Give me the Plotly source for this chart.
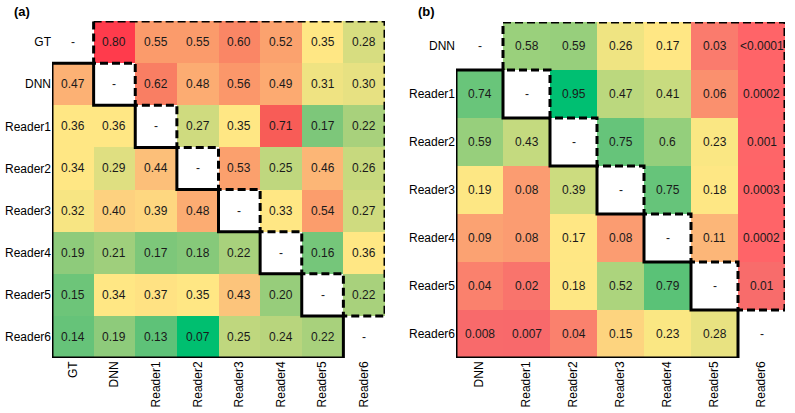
import plotly.graph_objects as go

# ---- data ----
a_labels = ["GT", "DNN", "Reader1", "Reader2", "Reader3", "Reader4", "Reader5", "Reader6"]
a_gt = ["-", "0.80", "0.55", "0.55", "0.60", "0.52", "0.35", "0.28"]
a_dnn = ["0.47", "-", "0.62", "0.48", "0.56", "0.49", "0.31", "0.30"]
a_r1 = ["0.36", "0.36", "-", "0.27", "0.35", "0.71", "0.17", "0.22"]
a_r2 = ["0.34", "0.29", "0.44", "-", "0.53", "0.25", "0.46", "0.26"]
a_r3 = ["0.32", "0.40", "0.39", "0.48", "-", "0.33", "0.54", "0.27"]
a_r4 = ["0.19", "0.21", "0.17", "0.18", "0.22", "-", "0.16", "0.36"]
a_r5 = ["0.15", "0.34", "0.37", "0.35", "0.43", "0.20", "-", "0.22"]
a_r6 = ["0.14", "0.19", "0.13", "0.07", "0.25", "0.24", "0.22", "-"]
a_rows = [a_gt, a_dnn, a_r1, a_r2, a_r3, a_r4, a_r5, a_r6]

b_labels = ["DNN", "Reader1", "Reader2", "Reader3", "Reader4", "Reader5", "Reader6"]
b_dnn = ["-", "0.58", "0.59", "0.26", "0.17", "0.03", "<0.0001"]
b_r1 = ["0.74", "-", "0.95", "0.47", "0.41", "0.06", "0.0002"]
b_r2 = ["0.59", "0.43", "-", "0.75", "0.6", "0.23", "0.001"]
b_r3 = ["0.19", "0.08", "0.39", "-", "0.75", "0.18", "0.0003"]
b_r4 = ["0.09", "0.08", "0.17", "0.08", "-", "0.11", "0.0002"]
b_r5 = ["0.04", "0.02", "0.18", "0.52", "0.79", "-", "0.01"]
b_r6 = ["0.008", "0.007", "0.04", "0.15", "0.23", "0.28", "-"]
b_rows = [b_dnn, b_r1, b_r2, b_r3, b_r4, b_r5, b_r6]

# ---- colour scales (value, colour) ----
a_stops = [(0.07, "#00BF70"), (0.13, "#5EC278"), (0.17, "#7DC77A"), (0.22, "#A8D17C"),
           (0.27, "#CFDB7F"), (0.33, "#FFE784"), (0.36, "#FFE784"), (0.40, "#FDD17F"),
           (0.44, "#FCBF79"), (0.48, "#FCAC72"), (0.55, "#FB9B6B"), (0.62, "#F97E63"),
           (0.71, "#F85C57"), (0.80, "#FF3B4C")]
b_stops = [(0.0, "#FF6468"), (0.007, "#F8696B"), (0.02, "#F9746C"), (0.04, "#FA816D"),
           (0.06, "#FA906E"), (0.09, "#FBA272"), (0.11, "#FCB678"), (0.15, "#FDD47F"),
           (0.17, "#FFE784"), (0.23, "#FAE783"), (0.28, "#E8E281"), (0.39, "#CCDC7F"),
           (0.47, "#BBD87E"), (0.58, "#9AD07C"), (0.75, "#66C47A"), (0.79, "#5AC277"),
           (0.95, "#00BF72")]

FONT = "Arial, Liberation Sans, sans-serif"


def to_num(s):
    if s == "-":
        return None
    return float(s.lstrip("<"))


def scale(stops):
    lo, hi = stops[0][0], stops[-1][0]
    return [[(v - lo) / (hi - lo), c] for v, c in stops], lo, hi


def lower_path(n):
    e = lambda k: k - 0.5
    pts = [(e(0), e(1))]
    for k in range(1, n):
        pts += [(e(k), e(k)), (e(k), e(k + 1))]
    pts.append((e(0), e(n)))
    return "M " + " L ".join(f"{x},{y}" for x, y in pts) + " Z"


def upper_path(n):
    e = lambda k: k - 0.5
    pts = [(e(1), e(0)), (e(n), e(0)), (e(n), e(n - 1))]
    for k in range(n - 1, 0, -1):
        pts += [(e(k), e(k)), (e(k), e(k - 1))]
    return "M " + " L ".join(f"{x},{y}" for x, y in pts) + " Z"


fig = go.Figure()
annotations = []
shapes = []

panels = [(a_labels, a_rows, a_stops, "x", "y"), (b_labels, b_rows, b_stops, "x2", "y2")]
for labels, rows, stops, xr, yr in panels:
    n = len(labels)
    cs, lo, hi = scale(stops)
    z = [[to_num(s) for s in row] for row in rows]
    fig.add_trace(go.Heatmap(
        z=z, x=list(range(n)), y=list(range(n)), colorscale=cs, zmin=lo, zmax=hi,
        showscale=False, hoverinfo="skip", xaxis=xr, yaxis=yr,
    ))
    for r, row in enumerate(rows):
        for c, s in enumerate(row):
            annotations.append(dict(x=c, y=r, xref=xr, yref=yr, text=s, showarrow=False,
                                    font=dict(family=FONT, size=12, color="#1a1a1a")))
    shapes.append(dict(type="path", path=lower_path(n), xref=xr, yref=yr,
                       line=dict(color="black", width=3)))
    shapes.append(dict(type="path", path=upper_path(n), xref=xr, yref=yr,
                       line=dict(color="black", width=3, dash="8px,4px")))

annotations.append(dict(x=12 / 795, y=1 - 12 / 413, xref="paper", yref="paper", text="<b>(a)</b>",
                        showarrow=False, xanchor="left", yanchor="middle",
                        font=dict(family=FONT, size=13, color="black")))
annotations.append(dict(x=416 / 795, y=1 - 12 / 413, xref="paper", yref="paper", text="<b>(b)</b>",
                        showarrow=False, xanchor="left", yanchor="middle",
                        font=dict(family=FONT, size=13, color="black")))

tick_font = dict(family=FONT, size=12, color="black")


def xax(domain, labels, anchor):
    return dict(domain=domain, anchor=anchor, tickvals=list(range(len(labels))), ticktext=labels,
                tickangle=-90, showgrid=False, zeroline=False, showline=False, ticks="",
                automargin=False, range=[-0.5, len(labels) - 0.5], tickfont=tick_font)


def yax(domain, labels, anchor):
    return dict(domain=domain, anchor=anchor, tickvals=list(range(len(labels))), ticktext=labels,
                showgrid=False, zeroline=False, showline=False, ticks="",
                automargin=False, range=[len(labels) - 0.5, -0.5], tickfont=tick_font)


fig.update_layout(
    template="none",
    width=795, height=413, margin=dict(l=0, r=0, t=0, b=0, pad=0),
    paper_bgcolor="white", plot_bgcolor="white",
    xaxis=xax([52 / 795, 385 / 795], a_labels, "y"),
    yaxis=yax([55 / 413, 392 / 413], a_labels, "x"),
    xaxis2=xax([456 / 795, 785 / 795], b_labels, "y2"),
    yaxis2=yax([55 / 413, 391 / 413], b_labels, "x2"),
    annotations=annotations, shapes=shapes,
)

# the page body has a default margin; remove it so the figure fills the window
fig.write_html("out.html", config={"displayModeBar": False},
               post_script="document.body.style.margin='0';")
